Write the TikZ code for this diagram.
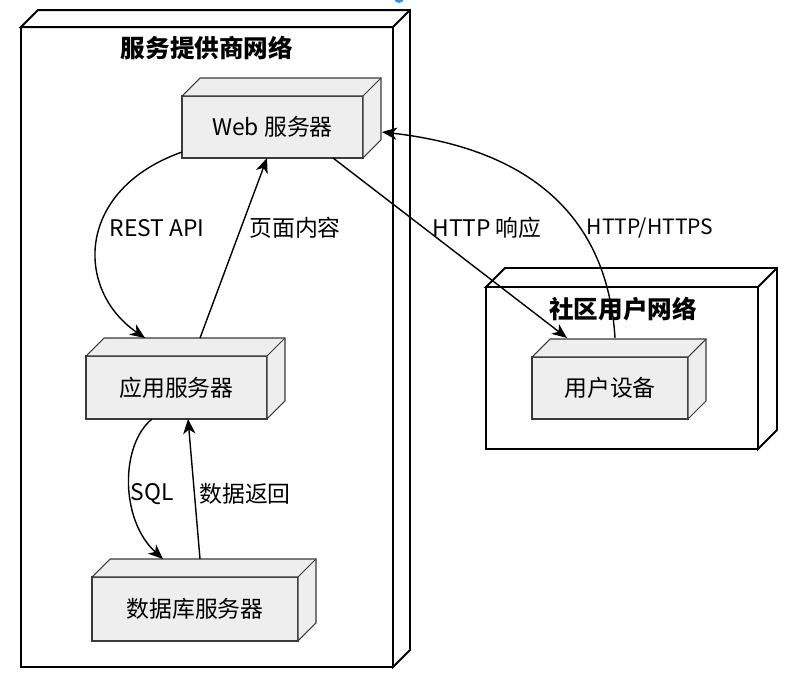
\documentclass[tikz,border=0pt]{standalone}
\usepackage{fontspec}
\setmainfont{Noto Sans CJK SC}
\usepackage{tikz}
\usetikzlibrary{positioning,calc,arrows.meta}

\definecolor{boxgray}{HTML}{EEEEEE}
\definecolor{edgegray}{HTML}{3A3A3A}
\definecolor{dotblue}{HTML}{2F8FE0}

\tikzset{
    netbox/.style={draw=black, line width=1.1pt, fill=white, outer sep=0pt},
    srvbox/.style={draw=edgegray, line width=0.6pt, fill=boxgray, outer sep=0pt,
        font=\fontsize{13}{15}\selectfont},
    nettitle/.style={font=\fontsize{14}{16}\selectfont\bfseries},
    conn/.style={line width=0.8pt, -{Stealth[length=8.5pt,width=7pt,inset=2.5pt]}},
    lbl/.style={font=\fontsize{13}{15}\selectfont}
}

% top and right faces of a box node
\newcommand{\boxdepth}[3]{%
    \draw[#3] (#1.north west) -- ++(#2,-#2) -- ($(#1.north east)+(#2,-#2)$)
        -- ($(#1.south east)+(#2,-#2)$) -- (#1.south east) -- (#1.north east) -- cycle;
    \draw[#3] (#1.north east) -- ++(#2,-#2);
}

\begin{document}
\begin{tikzpicture}[x=0.02cm, y=-0.02cm]
    \useasboundingbox (0,0) rectangle (790,676);
    \fill[dotblue] (399,-2) circle (5);

    % service provider network
    \node [netbox, minimum width=7.44cm, minimum height=12.8cm] (svcnet) at (207,347) {};
    \boxdepth{svcnet}{17}{netbox}
    \node [nettitle] (svctitle) at (207,48) {服务提供商网络};

    \node [srvbox, minimum width=3.62cm, minimum height=1.24cm] (web) at (272.5,127) {Web 服务器};
    \boxdepth{web}{18}{srvbox}
    \node [srvbox, minimum width=3.62cm, minimum height=1.26cm] (app) at (176.5,387.5) {应用服务器};
    \boxdepth{app}{18}{srvbox}
    \node [srvbox, minimum width=4.12cm, minimum height=1.28cm] (db) at (195,609) {数据库服务器};
    \boxdepth{db}{18}{srvbox}

    % community user network
    \node [netbox, minimum width=5.44cm, minimum height=3.24cm] (usernet) at (622,368) {};
    \boxdepth{usernet}{19}{netbox}
    \node [nettitle] (usertitle) at (623,309) {社区用户网络};
    \node [srvbox, minimum width=3.12cm, minimum height=1.24cm] (dev) at (610,388) {用户设备};
    \boxdepth{dev}{18}{srvbox}

    % connectors
    \draw [conn] ($(web.south west)+(0,-6)$) .. controls (75,190) and (75,290) .. ($(app.north west)+(59,-18)$);
    \node [lbl] (restlbl) at (157,228) {REST API};
    \draw [conn] ($(app.north west)+(114,-18)$) -- ($(web.south west)+(85,0)$);
    \node [lbl] (pagelbl) at (295,228) {页面内容};

    \draw [conn] ($(web.south west)+(151,0)$) -- ($(dev.north west)+(35,-19)$);
    \node [lbl] (resplbl) at (487,228) {HTTP 响应};
    \draw [conn] ($(dev.north west)+(83,-19)$) .. controls (608,225) and (540,150) .. ($(web.east)+(19,5)$);
    \node [lbl, font=\fontsize{12}{14}\selectfont] (httpslbl) at (650,228) {HTTP/HTTPS};

    \draw [conn] ($(app.south west)+(66,0)$) .. controls (120,445) and (120,520) .. ($(db.north west)+(71,-18)$);
    \node [lbl] (sqllbl) at (152,494) {SQL};
    \draw [conn] ($(db.north west)+(108,-18)$) -- ($(app.south west)+(102,0)$);
    \node [lbl] (retlbl) at (245,494) {数据返回};
\end{tikzpicture}
\end{document}
